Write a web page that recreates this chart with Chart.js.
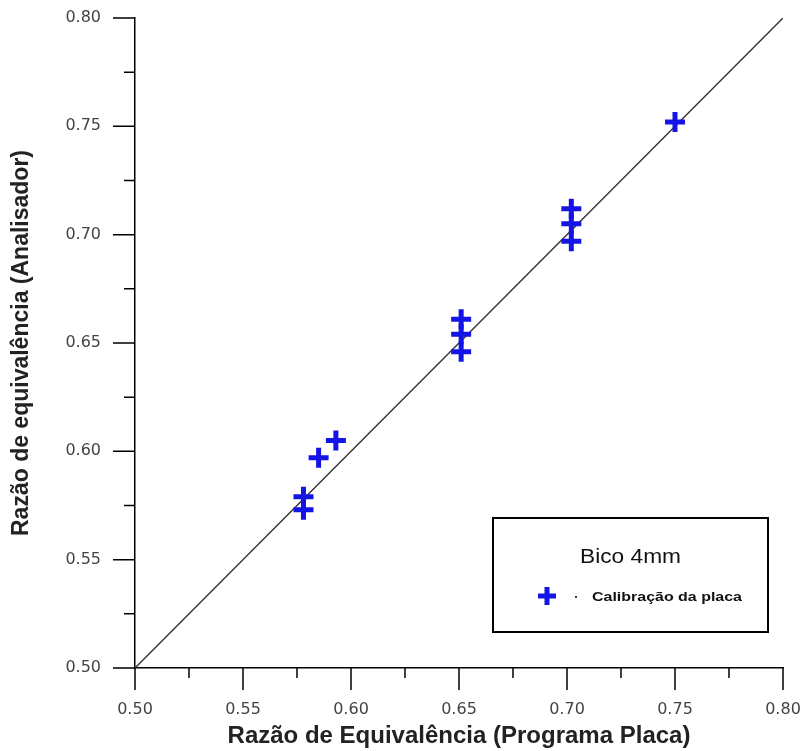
<!DOCTYPE html>
<html>
<head>
<meta charset="utf-8">
<script src="https://cdn.jsdelivr.net/npm/chart.js@4.4.0/dist/chart.umd.min.js"></script>
<style>
  html, body { margin: 0; padding: 0; background: #fff; }
  #wrap { width: 804px; height: 751px; }
</style>
</head>
<body>
<div id="wrap"><canvas id="calibChart"></canvas></div>
<script>
// pontos medidos (Programa Placa x Analisador)
const placaX = [0.578, 0.578, 0.585, 0.593, 0.651, 0.651, 0.651, 0.702, 0.702, 0.702, 0.750];
const analisadorY = [0.579, 0.573, 0.597, 0.605, 0.661, 0.654, 0.646, 0.712, 0.705, 0.697, 0.752];

// linha 1:1
const lineX = [0.50, 0.80];
const lineY = [0.50, 0.80];

const majorTicks = [0.50, 0.55, 0.60, 0.65, 0.70, 0.75, 0.80];
const minorTicks = [0.525, 0.575, 0.625, 0.675, 0.725, 0.775];

const legendTitle = "Bico 4mm";
const seriesLabel = "Calibração da placa";

const blue = "#1414e6";
const fontName = "'Liberation Sans', Arial, sans-serif";
const tickFont = "'DejaVu Sans', sans-serif";

// ticks para fora, maiores e menores
const tickMarks = {
  id: "tickMarks",
  afterDraw(chart) {
    const ctx = chart.ctx;
    const xs = chart.scales.x, ys = chart.scales.y;
    const x0 = xs.top, y0 = ys.right;
    ctx.save();
    ctx.strokeStyle = "#000";
    ctx.lineWidth = 1.5;
    ctx.beginPath();
    majorTicks.forEach(v => {
      const px = xs.getPixelForValue(v);
      ctx.moveTo(px, x0); ctx.lineTo(px, x0 + 22);
      const py = ys.getPixelForValue(v);
      ctx.moveTo(y0, py); ctx.lineTo(y0 - 22, py);
    });
    minorTicks.forEach(v => {
      const px = xs.getPixelForValue(v);
      ctx.moveTo(px, x0); ctx.lineTo(px, x0 + 10);
      const py = ys.getPixelForValue(v);
      ctx.moveTo(y0, py); ctx.lineTo(y0 - 11, py);
    });
    ctx.stroke();
    ctx.restore();
  }
};

// texto esticado na horizontal ate a largura w
function stretchText(ctx, txt, x, y, w) {
  const m = ctx.measureText(txt).width;
  ctx.save();
  ctx.translate(x, y);
  ctx.scale(w / m, 1);
  ctx.fillText(txt, 0, 0);
  ctx.restore();
}

// caixa da legenda dentro do grafico
const legendBox = {
  id: "legendBox",
  afterDraw(chart) {
    const ctx = chart.ctx;
    const L = 493, T = 518, W = 275, H = 114;
    ctx.save();
    ctx.fillStyle = "#fff";
    ctx.fillRect(L, T, W, H);
    ctx.strokeStyle = "#000";
    ctx.lineWidth = 2;
    ctx.strokeRect(L, T, W, H);

    ctx.fillStyle = "#111";
    ctx.font = "20px " + fontName;
    ctx.textAlign = "left";
    ctx.textBaseline = "middle";
    stretchText(ctx, legendTitle, 580, 557, 101);

    // marcador
    ctx.strokeStyle = blue;
    ctx.lineWidth = 5;
    ctx.beginPath();
    ctx.moveTo(538, 596); ctx.lineTo(556, 596);
    ctx.moveTo(547, 587); ctx.lineTo(547, 605);
    ctx.stroke();
    ctx.fillStyle = "#333";
    ctx.fillRect(575, 596, 2, 2);

    ctx.fillStyle = "#111";
    ctx.font = "bold 13px " + fontName;
    stretchText(ctx, seriesLabel, 592, 597, 150);
    ctx.restore();
  }
};

new Chart(document.getElementById("calibChart"), {
  type: "scatter",
  data: {
    datasets: [
      {
        type: "line",
        label: "1:1",
        data: lineX.map((x, i) => ({ x, y: lineY[i] })),
        borderColor: "#333",
        borderWidth: 1.4,
        pointRadius: 0,
        fill: false,
        order: 2
      },
      {
        label: seriesLabel,
        data: placaX.map((x, i) => ({ x, y: analisadorY[i] })),
        pointStyle: "cross",
        pointRadius: 10,
        pointHoverRadius: 10,
        borderColor: blue,
        backgroundColor: blue,
        borderWidth: 5,
        order: 1
      }
    ]
  },
  options: {
    responsive: true,
    maintainAspectRatio: false,
    animation: false,
    events: [],
    layout: { padding: { top: 18, right: 21, left: 0, bottom: 0 } },
    plugins: {
      legend: { display: false },
      tooltip: { enabled: false }
    },
    scales: {
      x: {
        type: "linear",
        min: 0.5,
        max: 0.8,
        afterFit: s => { s.height = 83; s.paddingLeft = 0; s.paddingRight = 0; },
        afterBuildTicks: s => { s.ticks = majorTicks.map(v => ({ value: v })); },
        grid: { display: true, drawOnChartArea: false, drawTicks: false },
        border: { display: true, color: "#000", width: 1.5 },
        ticks: {
          padding: 32,
          color: "#444",
          maxRotation: 0,
          font: { family: tickFont, size: 16 },
          callback: v => v.toFixed(2)
        },
        title: {
          display: true,
          text: "Razão de Equivalência (Programa Placa)",
          color: "#222",
          font: { family: fontName, size: 24, weight: "bold" },
          padding: { top: 0, bottom: 0 }
        }
      },
      y: {
        type: "linear",
        min: 0.5,
        max: 0.8,
        afterFit: s => { s.width = 135; s.paddingTop = 0; s.paddingBottom = 0; },
        afterBuildTicks: s => { s.ticks = majorTicks.map(v => ({ value: v })); },
        grid: { display: true, drawOnChartArea: false, drawTicks: false },
        border: { display: true, color: "#000", width: 1.5 },
        ticks: {
          padding: 34,
          color: "#444",
          font: { family: tickFont, size: 16 },
          callback: v => v.toFixed(2)
        },
        title: {
          display: true,
          text: "Razão de equivalência (Analisador)",
          color: "#222",
          font: { family: fontName, size: 23, weight: "bold" },
          padding: { top: 8, bottom: 0 }
        }
      }
    }
  },
  plugins: [tickMarks, legendBox]
});
</script>
</body>
</html>
